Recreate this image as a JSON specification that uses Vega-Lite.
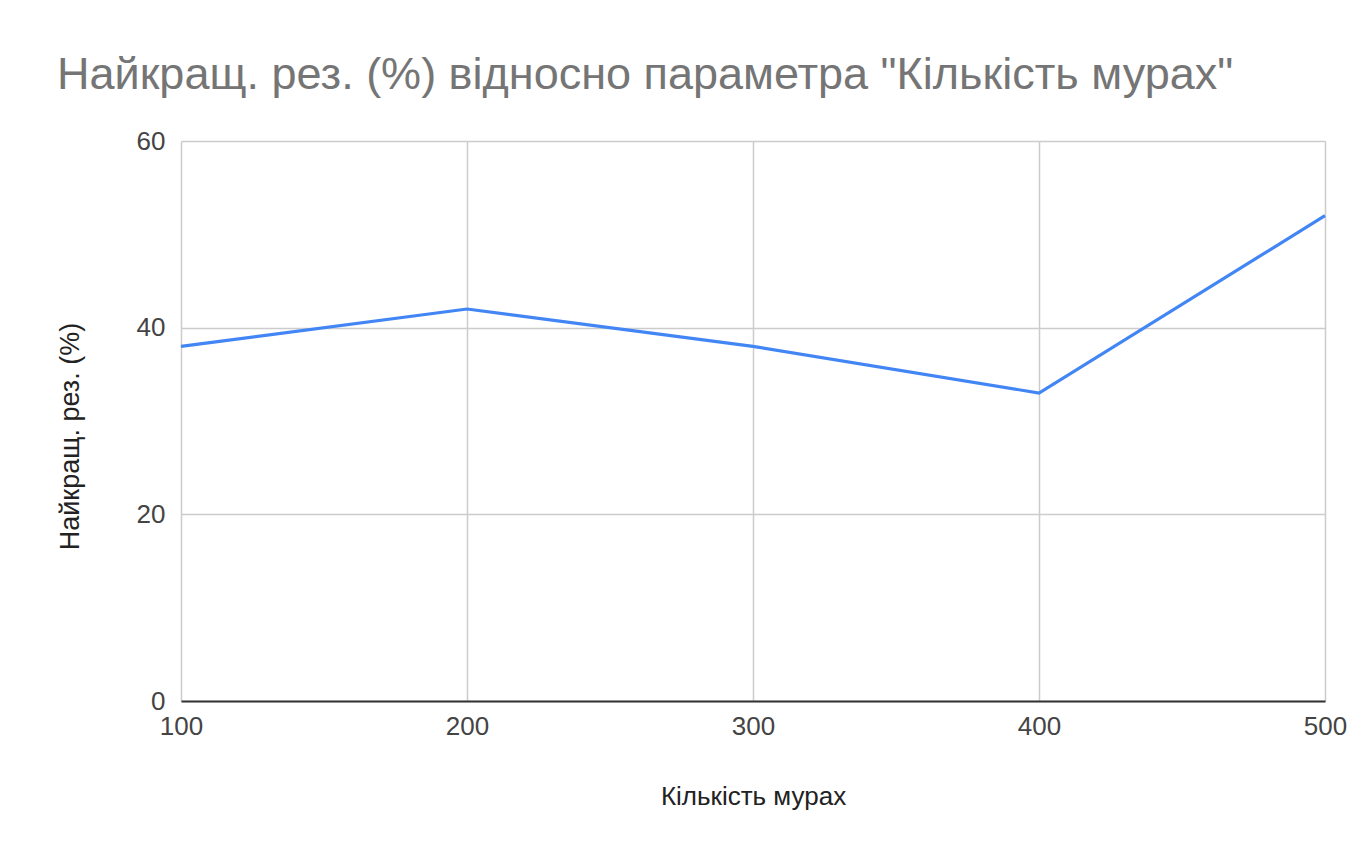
{
  "$schema": "https://vega.github.io/schema/vega-lite/v6.json",
  "autosize": "none",
  "width": 1144,
  "height": 560,
  "padding": {"left": 181, "top": 141, "right": 34, "bottom": 144},
  "background": "white",
  "title": {
    "text": "Найкращ. рез. (%) відносно параметра \"Кількість мурах\"",
    "anchor": "start",
    "frame": "group",
    "dx": -124,
    "offset": 30,
    "font": "Liberation Sans",
    "fontSize": 45,
    "fontWeight": "normal",
    "color": "#757575"
  },
  "data": {
    "values": [
      {"ants": 100, "best": 38},
      {"ants": 200, "best": 42},
      {"ants": 300, "best": 38},
      {"ants": 400, "best": 33},
      {"ants": 500, "best": 52}
    ]
  },
  "config": {
    "view": {"stroke": null},
    "axis": {
      "labelFont": "Liberation Sans",
      "titleFont": "Liberation Sans",
      "labelFontSize": 26,
      "titleFontSize": 26,
      "titleFontWeight": "normal",
      "labelColor": "#444444",
      "titleColor": "#222222",
      "gridColor": "#cccccc",
      "gridWidth": 1.5,
      "ticks": false
    }
  },
  "mark": {"type": "line", "color": "#4285F4", "strokeWidth": 3.2},
  "encoding": {
    "x": {
      "field": "ants",
      "type": "quantitative",
      "title": "Кількість мурах",
      "scale": {"domain": [100, 500], "nice": false, "zero": false},
      "axis": {
        "values": [100, 200, 300, 400, 500],
        "domain": true,
        "domainColor": "#333333",
        "domainWidth": 2,
        "labelPadding": 12,
        "labelFlush": false,
        "titlePadding": 44
      }
    },
    "y": {
      "field": "best",
      "type": "quantitative",
      "title": "Найкращ. рез. (%)",
      "scale": {"domain": [0, 60], "nice": false},
      "axis": {
        "values": [0, 20, 40, 60],
        "domain": false,
        "labelPadding": 16,
        "titlePadding": 52,
        "titleFontSize": 27,
        "titleY": 295
      }
    }
  }
}
